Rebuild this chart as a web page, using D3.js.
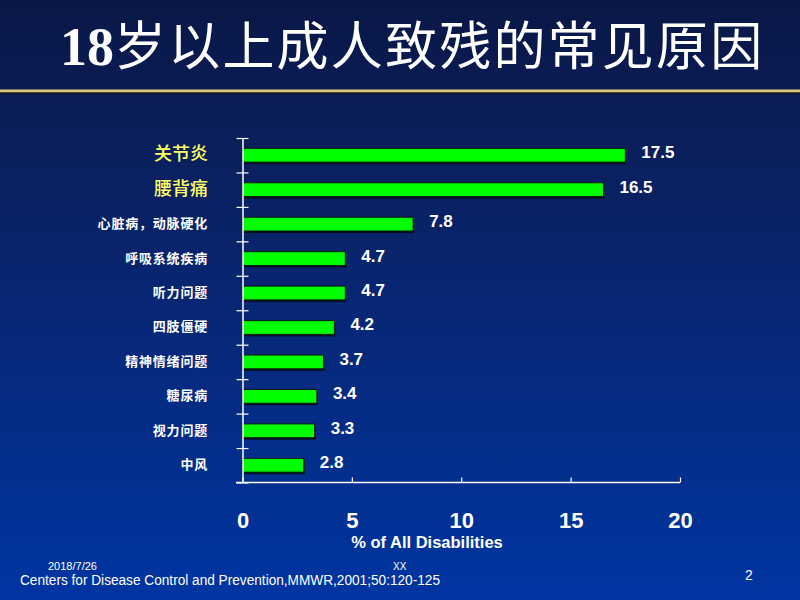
<!DOCTYPE html>
<html>
<head>
<meta charset="utf-8">
<script src="https://cdn.jsdelivr.net/npm/d3@7"></script>
<style>
  html, body { margin: 0; padding: 0; background: #0a1a4d; }
  svg { display: block; }
</style>
</head>
<body>
<script>
const categories = ["关节炎", "腰背痛", "心脏病，动脉硬化", "呼吸系统疾病", "听力问题", "四肢僵硬", "精神情绪问题", "糖尿病", "视力问题", "中风"];
const values = [17.5, 16.5, 7.8, 4.7, 4.7, 4.2, 3.7, 3.4, 3.3, 2.8];
const highlighted = ["关节炎", "腰背痛"];
const xTicks = [0, 5, 10, 15, 20];
const titleDigits = "18";
const titleText = "岁以上成人致残的常见原因";
const xAxisLabel = "% of All Disabilities";
const sourceText = "Centers for Disease Control  and Prevention,MMWR,2001;50:120-125";
const dateText = "2018/7/26";
const centerFooter = "XX";
const pageNumber = "2";

const W = 800, H = 600;
const svg = d3.select("body").append("svg").attr("width", W).attr("height", H);

const defs = svg.append("defs");
const grad = defs.append("linearGradient").attr("id", "bg").attr("x1", 0).attr("y1", 0).attr("x2", 0).attr("y2", 1);
grad.append("stop").attr("offset", "0%").attr("stop-color", "#0a1746");
grad.append("stop").attr("offset", "25%").attr("stop-color", "#0b1f5c");
grad.append("stop").attr("offset", "100%").attr("stop-color", "#0035a2");
svg.append("rect").attr("width", W).attr("height", H).attr("fill", "url(#bg)");

// header rule
svg.append("rect").attr("x", 0).attr("y", 89.5).attr("width", W).attr("height", 3).attr("fill", "#d9c87c");
svg.append("rect").attr("x", 0).attr("y", 92.5).attr("width", W).attr("height", 2).attr("fill", "#15172a");

// title
const title = svg.append("text").attr("x", 60).attr("y", 65).attr("fill", "#ffffff");
title.append("tspan").text(titleDigits)
  .attr("font-family", "'Liberation Serif', 'Times New Roman', serif")
  .attr("font-weight", "bold").attr("font-size", 54);
title.append("tspan").text(titleText)
  .attr("font-family", "'Noto Sans CJK SC', sans-serif")
  .attr("font-size", 52).attr("letter-spacing", 2.2);

// chart
const x0 = 242.5, x1 = 680, yTop = 138, yBot = 482.5;
const x = d3.scaleLinear().domain([0, 20]).range([x0, x1]);
const y = d3.scaleBand().domain(categories).range([yTop, yBot]).paddingInner(0.6).paddingOuter(0.3);
const yIdx = d3.scaleLinear().domain([0, categories.length]).range([yTop, yBot]);

const g = svg.append("g");

// bars (shadow + bar)
g.selectAll("rect.shadow").data(values).join("rect")
  .attr("class", "shadow")
  .attr("x", x(0) + 1)
  .attr("y", (d, i) => y(categories[i]) + 2)
  .attr("width", d => x(d) - x(0))
  .attr("height", y.bandwidth())
  .attr("fill", "#05101e");
g.selectAll("rect.bar").data(values).join("rect")
  .attr("class", "bar")
  .attr("x", x(0))
  .attr("y", (d, i) => y(categories[i]))
  .attr("width", d => x(d) - x(0))
  .attr("height", y.bandwidth())
  .attr("fill", "#00ff00")
  .attr("stroke", "#0a1a10").attr("stroke-width", 1);

// value labels
g.selectAll("text.val").data(values).join("text")
  .attr("class", "val")
  .attr("x", d => x(d) + 16)
  .attr("y", (d, i) => y(categories[i]) + y.bandwidth() / 2 + 3)
  .attr("fill", "#ffffff")
  .attr("font-family", "'Liberation Sans', Arial, sans-serif")
  .attr("font-weight", "bold").attr("font-size", 17)
  .text(d => d);

// category labels
g.selectAll("text.cat").data(categories).join("text")
  .attr("class", "cat")
  .attr("x", 208)
  .attr("y", d => y(d) + y.bandwidth() / 2 + (highlighted.includes(d) ? 5 : 4))
  .attr("text-anchor", "end")
  .attr("fill", d => highlighted.includes(d) ? "#ffff66" : "#ffffff")
  .attr("font-family", "'Noto Sans CJK SC', sans-serif")
  .attr("font-weight", d => highlighted.includes(d) ? "500" : "bold")
  .attr("font-size", d => highlighted.includes(d) ? 18 : 13)
  .attr("letter-spacing", d => highlighted.includes(d) ? 0 : 0.8)
  .text(d => d);

// y axis with ticks at band boundaries
const yAxis = d3.axisLeft(yIdx).ticks(categories.length).tickFormat("").tickSizeInner(6).tickSizeOuter(0);
const yAxG = svg.append("g").attr("transform", `translate(${x0},0)`).call(yAxis);
yAxG.selectAll(".tick line").attr("x1", 6).attr("stroke", "#ffffff").attr("stroke-width", 1.2);
yAxG.select(".domain").attr("stroke", "#ffffff").attr("stroke-width", 1.5);

// x axis
const xAxis = d3.axisBottom(x).tickValues(xTicks).tickSizeInner(-5).tickSizeOuter(0).tickPadding(30).tickFormat(d3.format("d"));
const xAxG = svg.append("g").attr("transform", `translate(0,${yBot})`).call(xAxis);
xAxG.select(".domain").remove();
xAxG.append("line").attr("x1", 236).attr("x2", x1).attr("y1", 0).attr("y2", 0).attr("stroke", "#ffffff").attr("stroke-width", 1.5);
xAxG.selectAll(".tick line").attr("stroke", "#ffffff").attr("stroke-width", 1.2);
xAxG.selectAll(".tick text")
  .attr("fill", "#ffffff")
  .attr("font-family", "'Liberation Sans Narrow', 'Liberation Sans', Arial, sans-serif")
  .attr("font-weight", "bold").attr("font-size", 22);

svg.append("text").attr("x", 427).attr("y", 548).attr("text-anchor", "middle")
  .attr("fill", "#ffffff").attr("font-family", "'Liberation Sans', Arial, sans-serif")
  .attr("font-weight", "bold").attr("font-size", 16.5).text(xAxisLabel);

// footer
const narrow = "'Liberation Sans Narrow', 'Liberation Sans', Arial, sans-serif";
svg.append("text").attr("x", 48).attr("y", 570).attr("fill", "#ffffff")
  .attr("font-family", narrow).attr("font-size", 11).text(dateText);
svg.append("text").attr("x", 393).attr("y", 570).attr("fill", "#ffffff")
  .attr("font-family", narrow).attr("font-size", 10).text(centerFooter);
svg.append("text").attr("x", 20).attr("y", 585).attr("fill", "#ffffff")
  .attr("font-family", narrow).attr("font-size", 14)
  .attr("textLength", 420).attr("lengthAdjust", "spacingAndGlyphs").text(sourceText);
svg.append("text").attr("x", 745).attr("y", 580).attr("fill", "#ffffff")
  .attr("font-family", narrow).attr("font-size", 14).text(pageNumber);
</script>
</body>
</html>
